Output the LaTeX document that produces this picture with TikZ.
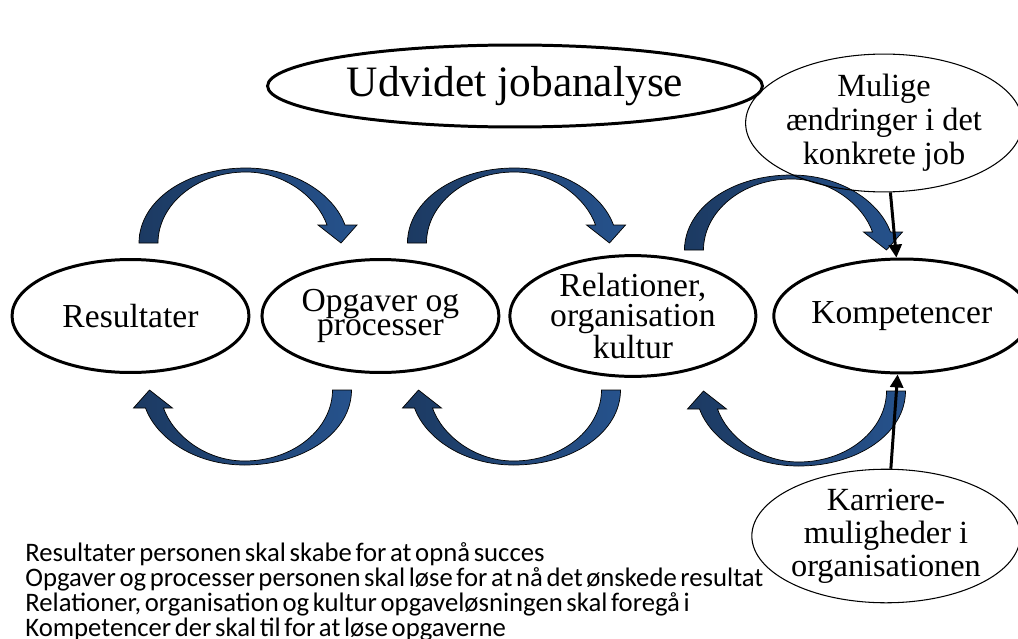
\documentclass[tikz,border=0pt]{standalone}
\usepackage{fontspec}
\setmainfont{Liberation Serif}
\newfontfamily\calibfont[WordSpace=0.6]{Carlito}
\usepackage{tikz}
\usetikzlibrary{positioning,arrows.meta,shapes.geometric}
\definecolor{cArrDark}{HTML}{1C3A62}
\definecolor{cArrLight}{HTML}{26528C}
\tikzset{
  oval/.style={ellipse,draw,line width=1.7pt,inner sep=0pt,align=center,font={\fontsize{19.1pt}{16.8pt}\selectfont}},
  thinoval/.style={ellipse,draw,line width=0.6pt,inner sep=0pt,align=center,font={\fontsize{18.4pt}{19.4pt}\selectfont}},
  desc/.style={anchor=base west,inner sep=0pt,font={\calibfont\fontsize{15.2pt}{16pt}\selectfont}},
  blk/.style={-{Triangle[length=2.6mm,width=2.6mm]},line width=1.7pt},
  curv/.pic={
    \path[draw=black,line width=0.4pt,left color=cArrDark,right color=cArrLight]
      (-109,0) .. controls (-109,-42) and (-62,-75) .. (-2,-75)
      .. controls (48,-75) and (86,-48) .. (97,-18) -- (109,-18) -- (93,0)
      -- (70,-18) -- (79,-18) .. controls (70,-44) and (38,-71) .. (-2,-71)
      .. controls (-52,-71) and (-90,-38) .. (-90,0) -- cycle;
  }}
\begin{document}
\begin{tikzpicture}[x=0.02cm,y=-0.02cm]
\useasboundingbox (0,0) rectangle (1018,639);
% curved arrows
\pic at (248,243) {curv};
\pic at (516.5,243) {curv};
\pic at (793.5,250) {curv};
\pic[rotate=180] at (242.5,390) {curv};
\pic[rotate=180] at (511.5,390) {curv};
\pic[rotate=180] at (796.5,391) {curv};
% title
\node[ellipse,draw,line width=1.7pt,minimum width=9.9cm,minimum height=1.64cm,inner sep=0pt,font={\fontsize{24.7pt}{26pt}\selectfont}] (title) at (515,86) {Udvidet jobanalyse};
% main row
\node[oval,minimum width=4.74cm,minimum height=2.26cm] (res) at (130.5,316) {Resultater};
\node[oval,minimum width=4.74cm,minimum height=2.26cm,right=2mm of res,font={\fontsize{19.1pt}{13.2pt}\selectfont\lineskiplimit=-20pt}] (opg) {Opgaver og\\processer};
\node[oval,minimum width=4.92cm,minimum height=2.26cm,right=1.6mm of opg] (rel) {Relationer,\\organisation\\kultur};
\node[oval,minimum width=5.12cm,minimum height=2.28cm,right=3mm of rel] (komp) {Kompetencer};
% side ovals
\node[thinoval,minimum width=5.34cm,minimum height=2.4cm] (mulige) at (884,123) {Mulige\\ændringer i det\\konkrete job};
\node[thinoval,minimum width=5.28cm,minimum height=2.56cm,font={\fontsize{18.4pt}{18.8pt}\selectfont}] (karr) at (886,536) {Karriere-\\muligheder i\\organisationen};
\draw[blk] (mulige) -- (komp);
\draw[blk] (karr) -- (komp);
% explanations
\node[desc] (d1) at (25,561) {Resultater personen skal skabe for at opnå succes};
\node[desc] (d2) at (25,586.5) {Opgaver og processer personen skal løse for at nå det ønskede resultat};
\node[desc] (d3) at (25,611.5) {Relationer, organisation og kultur opgaveløsningen skal foregå i};
\node[desc] (d4) at (25,636) {Kompetencer der skal til for at løse opgaverne};
\end{tikzpicture}
\end{document}
